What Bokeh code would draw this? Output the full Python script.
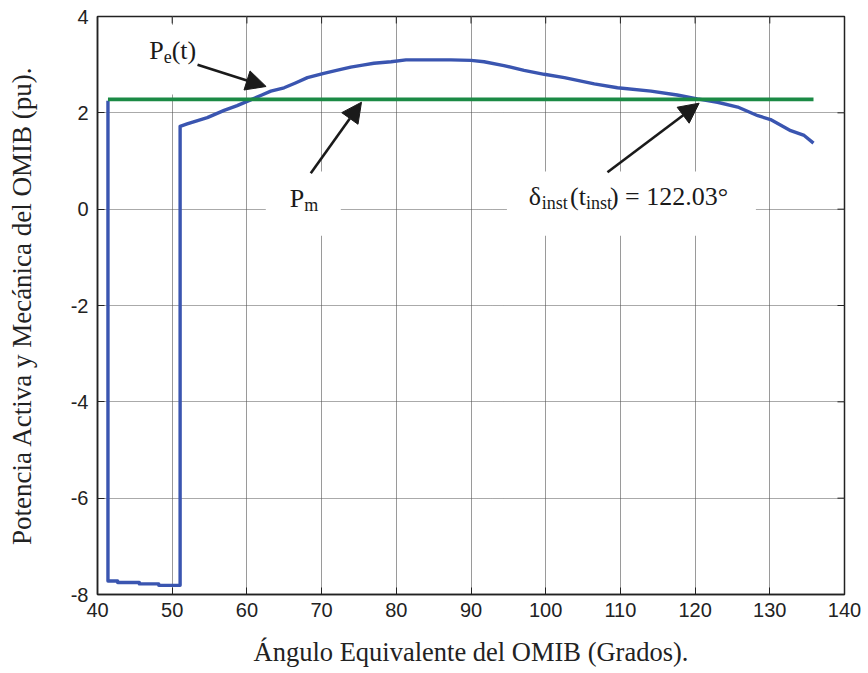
from bokeh.plotting import figure
from bokeh.models import Range1d, FixedTicker, Arrow, NormalHead
from bokeh.core.properties import value
from bokeh.embed import file_html
from bokeh.resources import INLINE

# ---------------- data ----------------
pe_x = [41.4, 41.4, 42.7, 42.7, 45.6, 45.6, 48.2, 48.2, 51.06, 51.06,
        52.0, 53.4, 54.7, 56.95, 58.7, 60.5, 62.0, 63.2, 64.98, 66.5,
        68.1, 70.3, 72.0, 73.9, 75.5, 77.0, 79.3, 81.3, 84.0, 87.3,
        90.0, 91.75, 94.4, 97.1, 99.8, 102.5, 106.5, 109.6, 114.1, 117.6,
        120.3, 123.0, 125.7, 128.4, 130.1, 132.8, 134.6, 135.85]
pe_y = [2.25, -7.72, -7.72, -7.75, -7.75, -7.78, -7.78, -7.81, -7.81, 1.72,
        1.77, 1.84, 1.90, 2.05, 2.15, 2.27, 2.37, 2.45, 2.52, 2.62,
        2.73, 2.82, 2.88, 2.95, 2.99, 3.03, 3.06, 3.10, 3.10, 3.10,
        3.09, 3.06, 2.98, 2.88, 2.80, 2.73, 2.60, 2.52, 2.45, 2.37,
        2.29, 2.22, 2.12, 1.94, 1.86, 1.63, 1.53, 1.37]
pm_x = [41.4, 135.85]
pm_y = [2.28, 2.28]

x_ticks = [40, 50, 60, 70, 80, 90, 100, 110, 120, 130, 140]
y_ticks = [-8, -6, -4, -2, 0, 2, 4]
y_tick_labels = ["-8", "-6", "-4", "-2", "0", "2", "4"]

x_label = "Ángulo Equivalente del OMIB (Grados)."
y_label = "Potencia Activa y Mecánica del OMIB (pu)."

# annotation texts (main size pieces and subscript pieces)
main_text = ["P", "(t)", "P", "δ", "(t", ") = 122.03°"]
main_tx = [46.93, 49.93, 65.74, 97.73, 103.26, 108.6]
main_ty = [3.30, 3.30, 0.23, 0.27, 0.27, 0.27]
sub_text = ["e", "m", "inst", "inst"]
sub_tx = [48.87, 67.68, 99.47, 105.39]
sub_ty = [3.16, 0.09, 0.13, 0.13]

# white label backgrounds (mask grid lines), data coords
box_left = [43.8, 62.53, 94.81]
box_right = [55.8, 72.57, 128.14]
box_top = [3.83, 0.78, 0.78]
box_bottom = [2.38, -0.55, -0.55]

# arrows: start -> end
arr_x0 = [53.39, 68.55, 108.27]
arr_y0 = [2.997, 0.747, 0.768]
arr_x1 = [62.57, 75.34, 120.54]
arr_y1 = [2.547, 2.221, 2.20]

# ---------------- figure ----------------
p = figure(width=868, height=673, output_backend="svg", toolbar_location=None,
           x_range=Range1d(40, 140), y_range=Range1d(-8, 4),
           min_border_left=97, min_border_right=24, min_border_top=16,
           min_border_bottom=79)
p.background_fill_color = "white"
p.border_fill_color = "white"
p.outline_line_color = "#222222"
p.outline_line_width = 1.5

lab_font = value("Liberation Serif")

for ax in (p.xaxis[0], p.yaxis[0]):
    ax.major_label_text_font = "Liberation Sans"
    ax.major_label_text_font_size = "20px"
    ax.major_label_text_color = "#222222"
    ax.axis_label_text_font = "Liberation Serif"
    ax.axis_label_text_font_style = "normal"
    ax.axis_label_text_color = "#222222"
    ax.axis_line_color = "#222222"
    ax.axis_line_width = 1.5
    ax.major_tick_in = 7
    ax.major_tick_out = 0
    ax.major_tick_line_color = "#222222"
    ax.minor_tick_line_color = None

p.xaxis[0].axis_label_text_font_size = "26.5px"
p.yaxis[0].axis_label_text_font_size = "27px"
p.xaxis[0].ticker = FixedTicker(ticks=x_ticks)
p.yaxis[0].ticker = FixedTicker(ticks=y_ticks)
p.yaxis[0].major_label_overrides = dict(zip(y_ticks, y_tick_labels))
p.xaxis[0].axis_label = x_label
p.yaxis[0].axis_label = y_label
p.xaxis[0].major_label_standoff = 8
p.yaxis[0].major_label_standoff = 9
p.xaxis[0].axis_label_standoff = 17
p.yaxis[0].axis_label_standoff = 31

p.xgrid.ticker = FixedTicker(ticks=x_ticks)
p.ygrid.ticker = FixedTicker(ticks=y_ticks)
p.xgrid.grid_line_color = "#9a9a9a"
p.xgrid.grid_line_width = 1
p.ygrid.grid_line_color = "#555555"
p.ygrid.grid_line_dash = "1 1"
p.ygrid.grid_line_width = 1

# mirror ticks on top and right edges (MATLAB box style)
x_top = p.y_range.end
y_right = p.x_range.end
p.segment(x0=x_ticks, y0=[x_top] * len(x_ticks), x1=x_ticks,
          y1=[x_top - 0.145] * len(x_ticks), line_color="#222222", line_width=1)
p.segment(x0=[y_right] * len(y_ticks), y0=y_ticks, x1=[y_right - 0.94] * len(y_ticks),
          y1=y_ticks, line_color="#222222", line_width=1)

# white label boxes masking the grid
p.quad(left=box_left, right=box_right, top=box_top, bottom=box_bottom,
       fill_color="white", line_color=None)

# curves
p.line(pe_x, pe_y, line_color="#3a55b0", line_width=3.4, line_join="round")
p.line(pm_x, pm_y, line_color="#1b8a45", line_width=3.6)

# annotation texts
p.text(x=main_tx, y=main_ty, text=main_text, text_font=lab_font,
       text_font_size="26px", text_color="#1a1a1a", text_baseline="alphabetic",
       text_align="left")
p.text(x=sub_tx, y=sub_ty, text=sub_text, text_font=lab_font,
       text_font_size="18px", text_color="#1a1a1a", text_baseline="alphabetic",
       text_align="left")

# arrows
for x0, y0, x1, y1 in zip(arr_x0, arr_y0, arr_x1, arr_y1):
    p.add_layout(Arrow(x_start=x0, y_start=y0, x_end=x1, y_end=y1,
                       line_color="#1a1a1a", line_width=2.6,
                       end=NormalHead(size=20, fill_color="#1a1a1a",
                                      line_color="#1a1a1a")))

open("out.html", "w").write(file_html(p, INLINE))
